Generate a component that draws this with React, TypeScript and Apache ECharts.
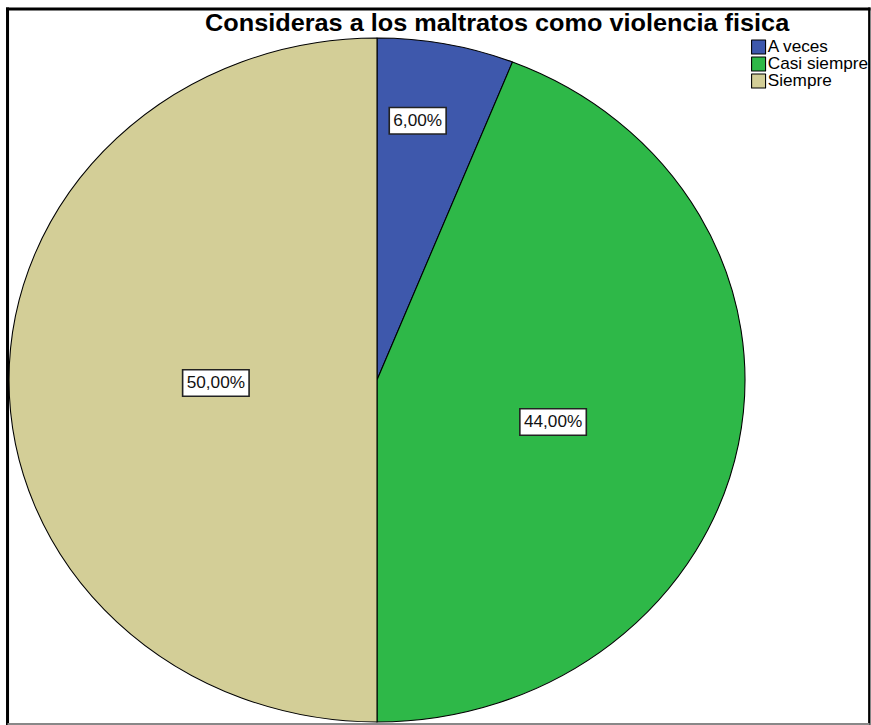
import React, { useEffect, useRef } from 'react';
import * as echarts from 'echarts';

const categories = ['A veces', 'Casi siempre', 'Siempre'];
const percentages = [6, 44, 50];
const sliceColors = ['#3E58AC', '#2EB848', '#D3CE97'];
const labelRadius = [0.766, 0.494, 0.438];
const labelAngleShift = [-2.5, 3.6, -1.15];
const titleText = 'Consideras a los maltratos como violencia fisica';

const STRETCH = 1.076;
const WIDTH = 871 / STRETCH;
const HEIGHT = 725;
const CX = 377 / STRETCH;
const CY = 380;
const R = 342;
const FONT = '"Liberation Sans", Arial, Helvetica, sans-serif';

export default function App() {
  const ref = useRef<HTMLDivElement>(null);
  useEffect(() => {
    document.body.style.margin = '0';
    if (!ref.current) return;
    const chart = echarts.init(ref.current, undefined, { renderer: 'svg' });
    const total = percentages.reduce((a, b) => a + b, 0);
    const mids: number[] = [];
    let acc = 0;
    percentages.forEach((v) => {
      mids.push(((acc + v / 2) / total) * 360);
      acc += v;
    });
    const lw = 2.8;
    chart.setOption({
      animation: false,
      backgroundColor: '#fff',
      title: {
        text: titleText,
        left: 462,
        top: 11,
        padding: 0,
        textAlign: 'center',
        textStyle: { fontFamily: FONT, fontSize: 23.5, fontWeight: 'bold', color: '#000' },
      },
      legend: {
        orient: 'vertical',
        left: 698,
        top: 39,
        padding: 0,
        itemWidth: 13,
        itemHeight: 14,
        itemGap: 1,
        icon: 'rect',
        data: categories,
        itemStyle: { borderColor: '#000', borderWidth: 1 },
        textStyle: { fontFamily: FONT, fontSize: 16, lineHeight: 16, color: '#000', padding: [0, 0, 0, -3] },
        selectedMode: false,
      },
      series: [
        {
          type: 'pie',
          center: [CX, CY],
          radius: R,
          startAngle: 90,
          clockwise: true,
          silent: true,
          emphasis: { disabled: true },
          itemStyle: { borderColor: '#000', borderWidth: 1 },
          label: {
            show: true,
            position: 'inside',
            formatter: (p: any) => p.value.toFixed(2).replace('.', ',') + '%',
            fontFamily: FONT,
            fontSize: 16,
            lineHeight: 18,
            color: '#111',
            backgroundColor: '#fff',
            borderColor: '#222',
            borderWidth: 1.5,
            padding: [4, 3, 3, 3],
          },
          labelLayout: (params: any) => {
            const i = params.dataIndex;
            const th = ((mids[i] + labelAngleShift[i]) * Math.PI) / 180;
            const r = labelRadius[i] * R;
            return {
              x: CX + r * Math.sin(th),
              y: CY - r * Math.cos(th),
              align: 'center',
              verticalAlign: 'middle',
            };
          },
          data: categories.map((name, i) => ({
            name,
            value: percentages[i],
            itemStyle: { color: sliceColors[i] },
          })),
        },
      ],
      graphic: [
        { type: 'line', z: 100, shape: { x1: 7 - lw / 2, y1: 9, x2: 808.2 + lw / 2, y2: 9 }, style: { stroke: '#000', lineWidth: 3 } },
        { type: 'line', z: 100, shape: { x1: 7, y1: 7.5, x2: 7, y2: 725 }, style: { stroke: '#000', lineWidth: lw } },
        { type: 'line', z: 100, shape: { x1: 808.2, y1: 7.5, x2: 808.2, y2: 725 }, style: { stroke: '#000', lineWidth: lw } },
        { type: 'line', z: 100, shape: { x1: 7, y1: 724, x2: 808.2, y2: 724 }, style: { stroke: '#888', lineWidth: 2 } },
      ],
    });
    return () => chart.dispose();
  }, []);
  return (
    <div style={{ width: 871, height: 725, overflow: 'hidden', position: 'relative', background: '#fff' }}>
      <div
        ref={ref}
        style={{
          width: WIDTH,
          height: HEIGHT,
          transform: `scaleX(${STRETCH})`,
          transformOrigin: '0 0',
          position: 'absolute',
          left: 0,
          top: 0,
        }}
      />
    </div>
  );
}
